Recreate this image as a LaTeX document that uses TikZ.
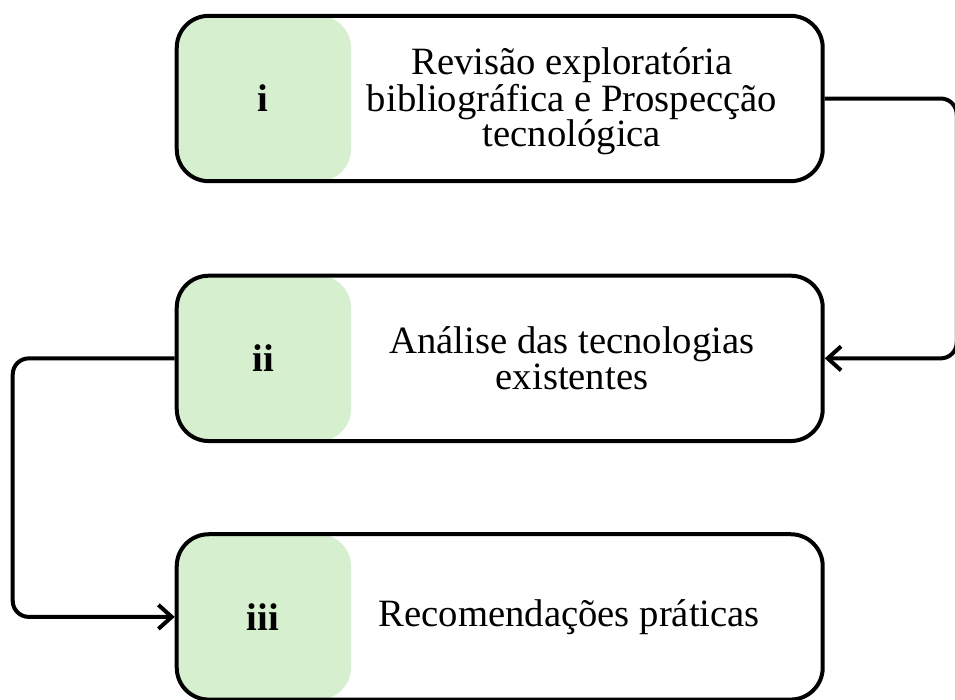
\documentclass[tikz,border=0pt]{standalone}
\usepackage{fontspec}
\setmainfont{Liberation Serif}
\usetikzlibrary{positioning,calc,arrows.meta}
\definecolor{lightgreen}{RGB}{214,239,207}
\tikzset{
  numbox/.style={fill=lightgreen, rounded corners=24pt, minimum width=132pt, minimum height=124pt,
    inner sep=0pt, font=\fontsize{29}{26.5}\selectfont\bfseries},
  stepbox/.style={draw, line width=3pt, rounded corners=24pt, minimum width=484.5pt,
    minimum height=124pt, anchor=west},
  steptext/.style={align=center, font=\fontsize{29}{26.5}\selectfont},
  link/.style={line width=3pt, rounded corners=12pt, -{Straight Barb[length=10pt,width=18pt]}}
}
\begin{document}
\begin{tikzpicture}[x=0.75pt,y=-0.75pt]
  \useasboundingbox (0,0) rectangle (955,699);
  \node[numbox] (num1) at (263,98.5) {i};
  \node[numbox, below=70.5pt of num1] (num2) {ii};
  \node[numbox, below=69.5pt of num2] (num3) {iii};
  \node[stepbox] (step1) at (num1.west) {};
  \node[stepbox] (step2) at (num2.west) {};
  \node[stepbox] (step3) at (num3.west) {};
  \node[steptext, xshift=-12pt, yshift=-2pt] (txt1) at ($(num1.east)!0.5!(step1.east)$)
    {Revisão exploratória\\bibliográfica e Prospecção\\tecnológica};
  \node[steptext, xshift=-12pt] (txt2) at ($(num2.east)!0.5!(step2.east)$)
    {Análise das tecnologias\\existentes};
  \node[steptext, xshift=-14pt] (txt3) at ($(num3.east)!0.5!(step3.east)$)
    {Recomendações práticas};
  \draw[link] (step1.east) -- ++(132,0) |- (step2.east);
  \draw[link] (step2.west) -- ++(-162,0) |- (step3.west);
\end{tikzpicture}
\end{document}
